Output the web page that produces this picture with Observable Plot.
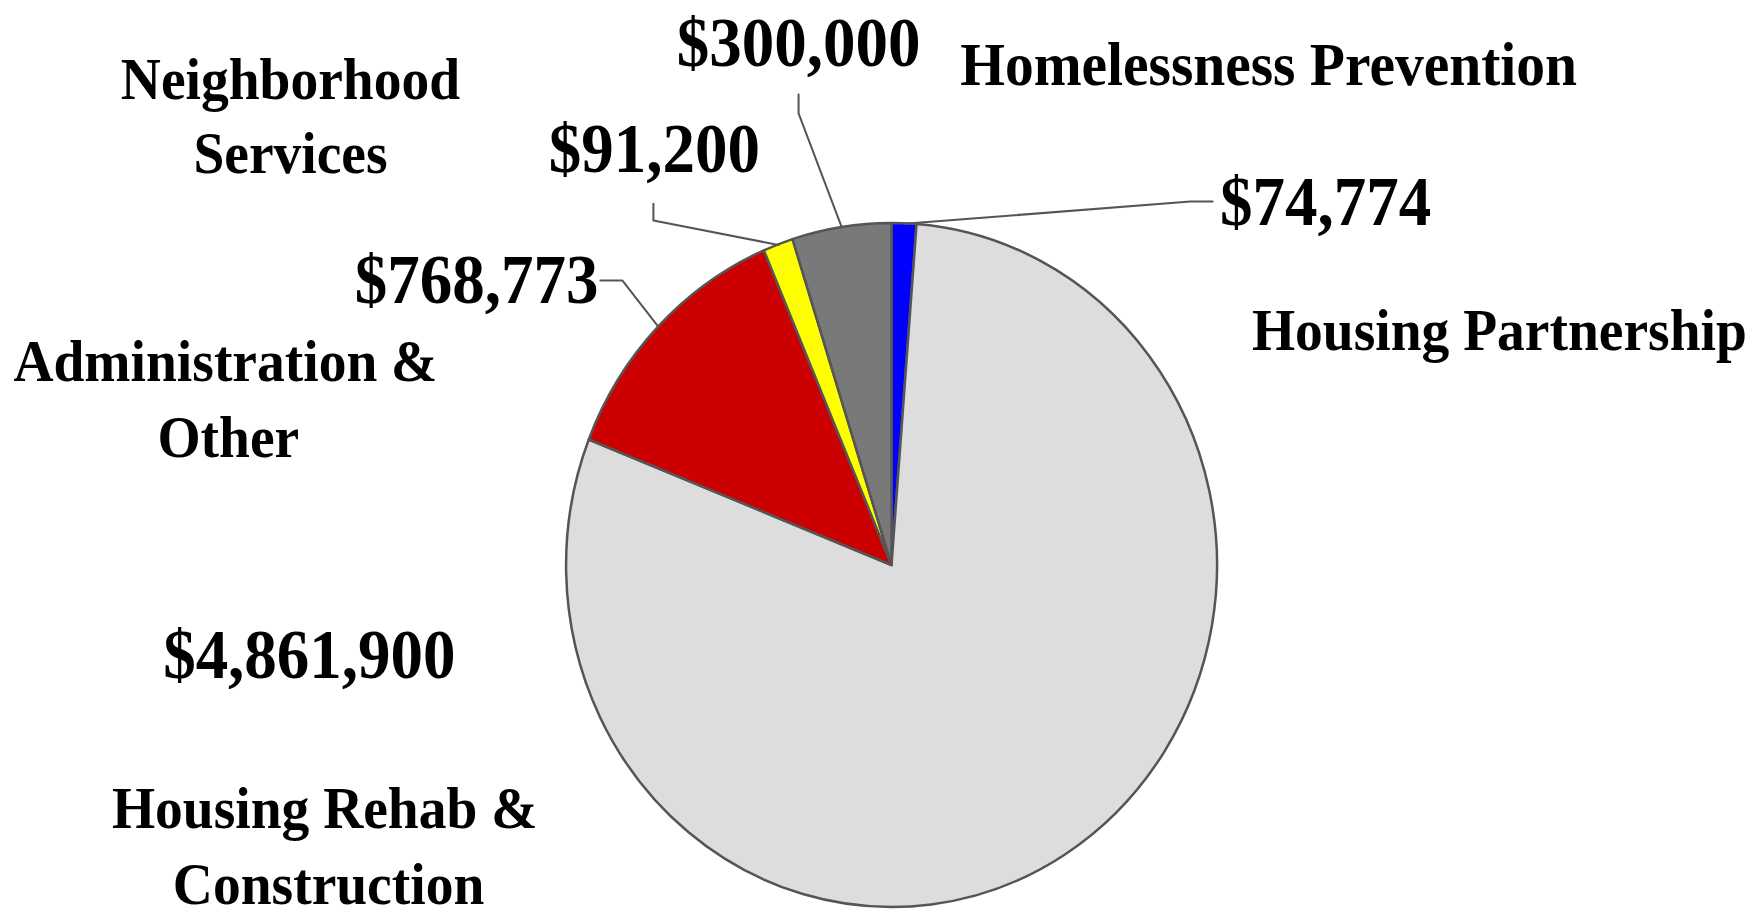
<!DOCTYPE html>
<html>
<head>
<meta charset="utf-8">
<script src="https://cdn.jsdelivr.net/npm/d3@7"></script>
<script src="https://cdn.jsdelivr.net/npm/@observablehq/plot@0.6"></script>
<style>
  html, body { margin: 0; padding: 0; background: #ffffff; overflow: hidden; }
  #chart svg { display: block; background: #ffffff; }
</style>
</head>
<body>
<div id="chart"></div>
<script>
// ---- data (clockwise from 12 o'clock) ----
const categories = ["Housing Partnership", "Housing Rehab & Construction", "Administration & Other", "Neighborhood Services", "Homelessness Prevention"];
const amounts = [74774, 4861900, 768773, 91200, 300000];
const valueLabels = ["$74,774", "$4,861,900", "$768,773", "$91,200", "$300,000"];
const categoryLines = [["Housing Partnership"], ["Housing Rehab &", "Construction"], ["Administration &", "Other"], ["Neighborhood", "Services"], ["Homelessness Prevention"]];
const sliceColors = ["#0000ff", "#dddddd", "#cc0000", "#ffff00", "#797979"];

// ---- layout (in pie-radius units, pie centre at 0,0) ----
const valuePos = [[1.332, 1.061], [-1.790, -0.263], [-1.276, 0.833], [-0.730, 1.216], [-0.287, 1.526]];
const namePos = [[[1.866, 0.687]], [[-1.743, -0.711], [-1.731, -0.933]], [[-2.048, 0.596], [-2.039, 0.374]], [[-1.848, 1.421], [-1.848, 1.202]], [[1.157, 1.462]]];
const nameSizes = [55.5, 55.5, 55.5, 55.5, 57.5];
const leaderElbows = [[[0.985, 1.064], [0.917, 1.064]], null, [[-0.896, 0.833], [-0.828, 0.833]], [[-0.733, 1.058], [-0.733, 1.009]], [[-0.287, 1.377], [-0.287, 1.322]]];

const W = 1753, H = 909;
const CX = 891.5, CY = 565, RX = 325.5, RY = 342;

// table built from the arrays
const table = categories.map((c, i) => ({category: c, amount: amounts[i], color: sliceColors[i], label: valueLabels[i]}));
const arcs = d3.pie().sort(null).value(d => d.amount)(table);

// value labels
const valueRows = table.map((d, i) => ({text: d.label, x: valuePos[i][0], y: valuePos[i][1]}));
// category labels
const nameRows = [];
categoryLines.forEach((lines, i) => lines.forEach((t, j) => nameRows.push({text: t, x: namePos[i][j][0], y: namePos[i][j][1], size: nameSizes[i]})));
// leader lines: label elbow points then slice mid-angle on the rim
const leaderRows = [];
arcs.forEach((a, i) => {
  if (!leaderElbows[i]) return;
  const mid = (a.startAngle + a.endAngle) / 2;
  leaderElbows[i].forEach(p => leaderRows.push({id: i, x: p[0], y: p[1]}));
  leaderRows.push({id: i, x: Math.sin(mid), y: Math.cos(mid)});
});

function pieSlices(index, scales) {
  const x = scales.x, y = scales.y;
  const cx = x(0), cy = y(0), sx = x(1) - x(0), sy = y(0) - y(1);
  const arc = d3.arc().innerRadius(0).outerRadius(1);
  const g = d3.create("svg:g").attr("aria-label", "pie");
  g.selectAll("path").data(arcs).join("path")
    .attr("d", arc)
    .attr("fill", d => d.data.color)
    .attr("stroke", "#555555")
    .attr("stroke-width", 2.5)
    .attr("stroke-linejoin", "round")
    .attr("vector-effect", "non-scaling-stroke")
    .attr("transform", `translate(${cx},${cy}) scale(${sx},${sy})`);
  return g.node();
}

const chart = Plot.plot({
  width: W,
  height: H,
  margin: 0,
  x: {domain: [-CX / RX, (W - CX) / RX], axis: null},
  y: {domain: [-(H - CY) / RY, CY / RY], axis: null},
  style: {background: "#ffffff"},
  marks: [
    pieSlices,
    Plot.line(leaderRows, {x: "x", y: "y", z: "id", stroke: "#555555", strokeWidth: 2}),
    Plot.text(valueRows, {x: "x", y: "y", text: "text", fontSize: 65, fontWeight: "bold", fontFamily: "Liberation Serif, Times New Roman, serif", fill: "#000000"}),
    Plot.text(nameRows, {x: "x", y: "y", text: "text", fontSize: "size", fontWeight: "bold", fontFamily: "Liberation Serif, Times New Roman, serif", fill: "#000000"})
  ]
});

// the reference's lettering is slightly taller than wide
chart.querySelectorAll("text").forEach(t => {
  const tr = t.getAttribute("transform");
  if (tr && tr.includes("translate")) {
    t.setAttribute("transform", tr + " scale(1,1.07)");
  }
});

document.getElementById("chart").appendChild(chart);
</script>
</body>
</html>
